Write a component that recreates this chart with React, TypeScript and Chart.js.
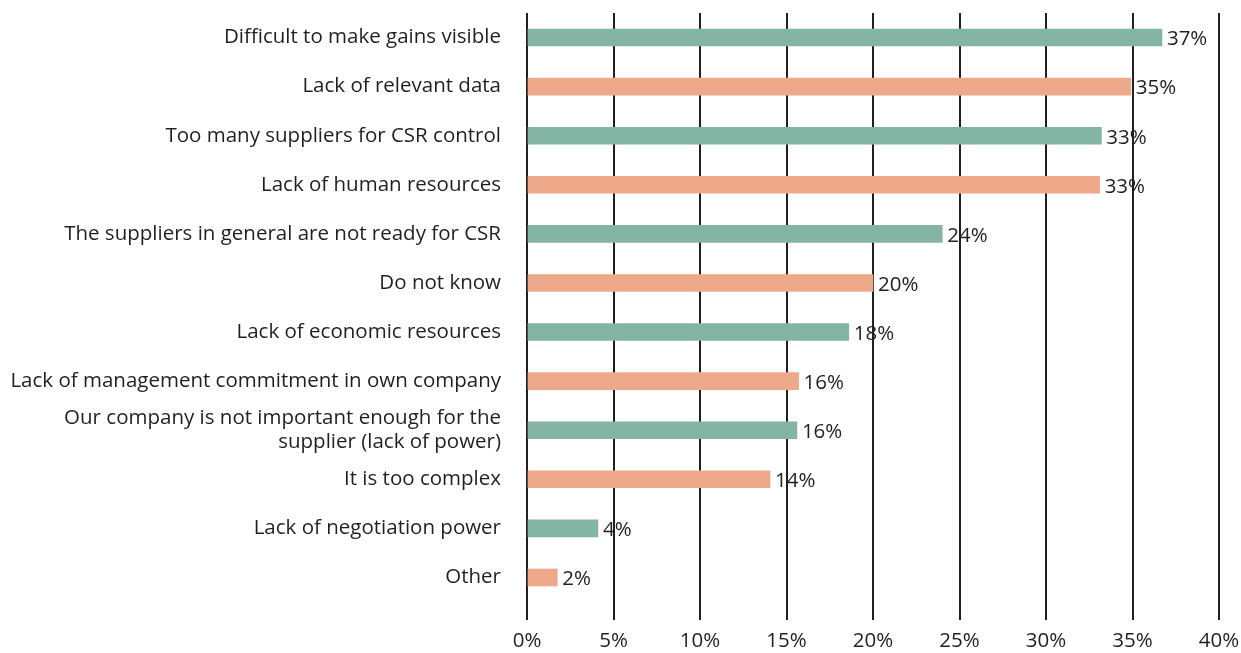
import React, { useEffect, useRef } from "react";
import { Chart, registerables } from "chart.js";

Chart.register(...registerables);

const categories: (string | string[])[] = [
  "Difficult to make gains visible",
  "Lack of relevant data",
  "Too many suppliers for CSR control",
  "Lack of human resources",
  "The suppliers in general are not ready for CSR",
  "Do not know",
  "Lack of economic resources",
  "Lack of management commitment in own company",
  ["Our company is not important enough for the", "supplier (lack of power)"],
  "It is too complex",
  "Lack of negotiation power",
  "Other",
];

const barValues = [36.7, 34.9, 33.2, 33.1, 24.0, 20.0, 18.6, 15.7, 15.6, 14.05, 4.1, 1.75];
const valueLabels = ["37%", "35%", "33%", "33%", "24%", "20%", "18%", "16%", "16%", "14%", "4%", "2%"];

const GREEN = "#84b4a3";
const SALMON = "#eea98b";
const barColors = barValues.map((_, i) => (i % 2 === 0 ? GREEN : SALMON));

const FONT = "'Open Sans', sans-serif";
const FONT_SIZE = 20.5;
const TEXT = "#231f20";

const valueLabelPlugin = {
  id: "valueLabels",
  afterDraw(chart: any) {
    const ctx = chart.ctx;
    const meta = chart.getDatasetMeta(0);
    ctx.save();
    ctx.font = `${FONT_SIZE}px ${FONT}`;
    ctx.fillStyle = TEXT;
    ctx.textAlign = "left";
    ctx.textBaseline = "middle";
    meta.data.forEach((bar: any, i: number) => {
      ctx.fillText(valueLabels[i], bar.x + 5, bar.y + 2);
    });
    ctx.restore();
  },
};

export default function App() {
  const ref = useRef<HTMLCanvasElement>(null);
  useEffect(() => {
    if (!ref.current) return;
    const chart = new Chart(ref.current, {
      type: "bar",
      data: {
        labels: categories,
        datasets: [
          {
            data: barValues,
            backgroundColor: barColors,
            barThickness: 17,
            borderWidth: 0,
          },
        ],
      },
      options: {
        indexAxis: "y",
        animation: false,
        responsive: false,
        maintainAspectRatio: false,
        layout: { padding: { top: 13, right: 22, left: 0, bottom: 0 } },
        plugins: {
          legend: { display: false },
          tooltip: { enabled: false },
        },
        scales: {
          x: {
            min: 0,
            max: 40,
            z: 1,
            border: { display: false },
            grid: {
              color: TEXT,
              lineWidth: 2,
              drawTicks: true,
              tickLength: 18,
            },
            ticks: {
              stepSize: 5,
              padding: 9,
              color: TEXT,
              font: { family: FONT, size: FONT_SIZE },
              callback: (v: any) => `${v}%`,
            },
            afterFit: (scale: any) => {
              scale.height = 51;
              scale.paddingLeft = 0;
              scale.paddingRight = 0;
            },
          },
          y: {
            border: { display: false },
            grid: { display: false },
            ticks: {
              autoSkip: false,
              padding: 18,
              color: TEXT,
              font: { family: FONT, size: FONT_SIZE },
            },
            afterFit: (scale: any) => {
              scale.width = 527;
              scale.paddingTop = 0;
              scale.paddingBottom = 0;
            },
          },
        },
      },
      plugins: [valueLabelPlugin],
    });
    return () => chart.destroy();
  }, []);
  return (
    <div style={{ position: "fixed", left: 0, top: 0, width: 1241, height: 653, background: "#fff" }}>
      <canvas ref={ref} width={1241} height={653} />
    </div>
  );
}
